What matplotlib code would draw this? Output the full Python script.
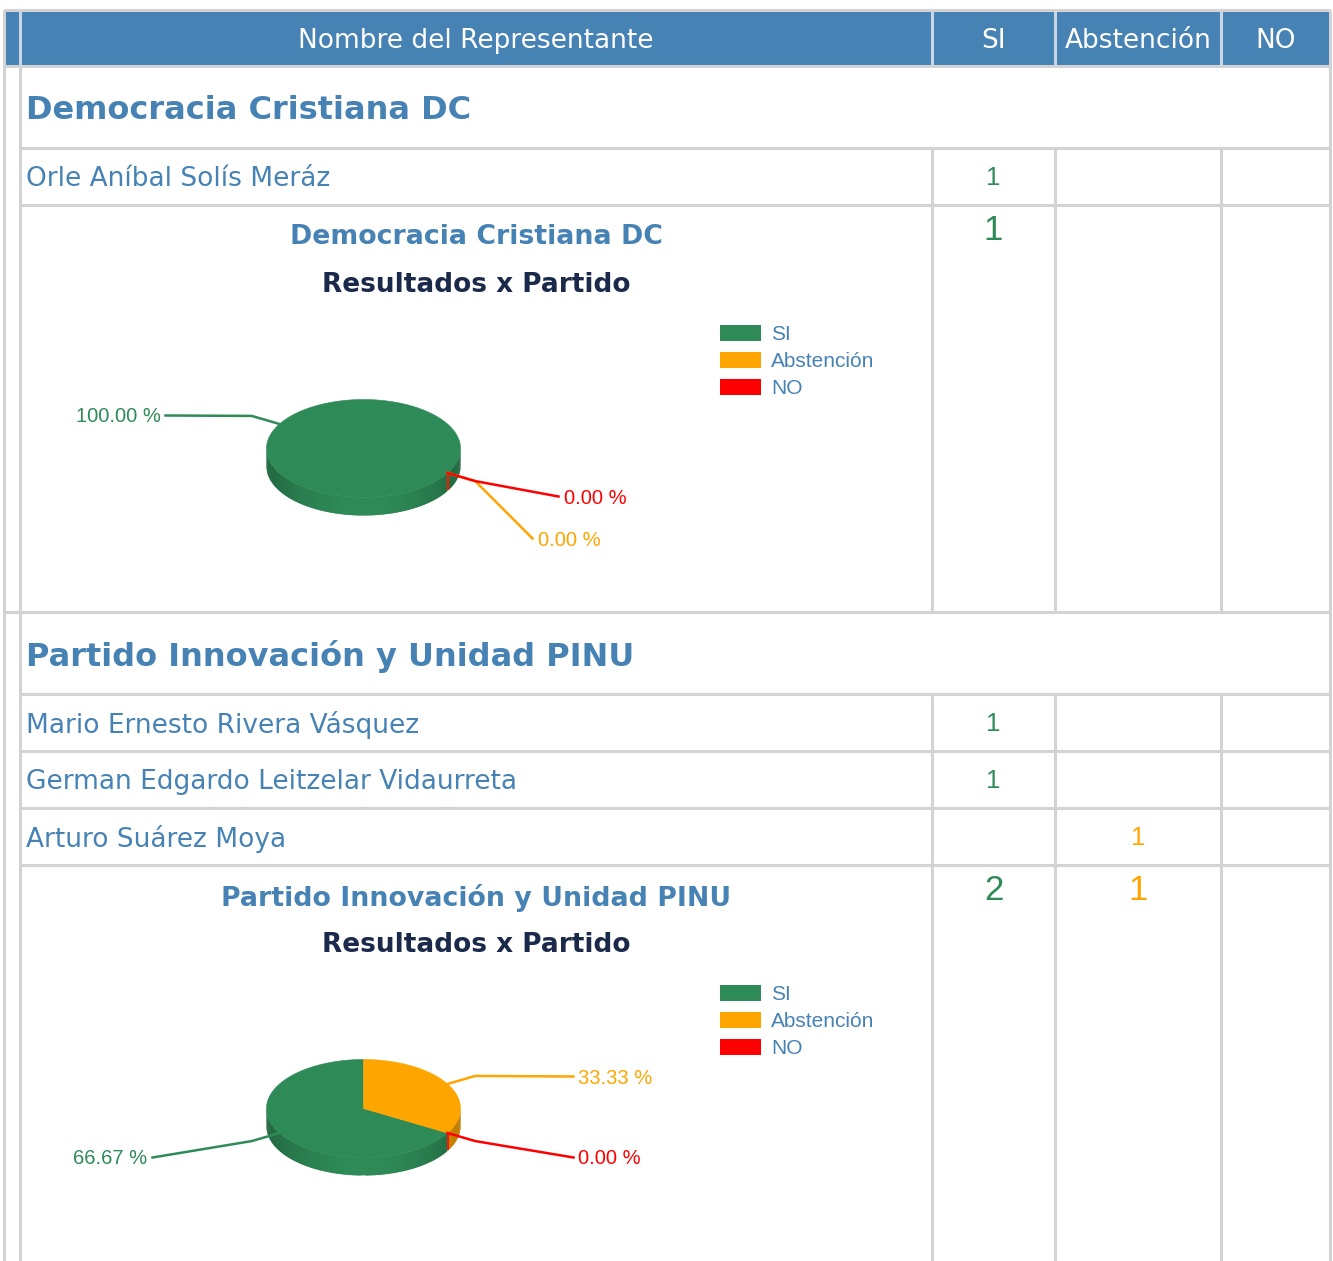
import numpy as np
import matplotlib
matplotlib.use("Agg")
import matplotlib.pyplot as plt
from matplotlib.patches import Polygon, Rectangle
from matplotlib.colors import to_rgb

# ---- data ----
options = ["SI", "Abstención", "NO"]
option_colors = ["#2E8B57", "#FFA500", "#FF0000"]

parties = ["Democracia Cristiana DC", "Partido Innovación y Unidad PINU"]
dc_names = ["Orle Aníbal Solís Meráz"]
dc_votes = ["SI"]
pinu_names = ["Mario Ernesto Rivera Vásquez",
              "German Edgardo Leitzelar Vidaurreta",
              "Arturo Suárez Moya"]
pinu_votes = ["SI", "SI", "Abstención"]

members = [dc_names, pinu_names]
votes = [dc_votes, pinu_votes]

# ---- layout (pixels) ----
W, H = 1333, 1261
BLUE = "#4682B4"
NAVY = "#1B2A4A"
GRID = "#D3D3D3"
x_left, x_inner, x_right = 4, 20, 1330
col_x = [932, 1055, 1221]
col_centers = [(932 + 1055) / 2, (1055 + 1221) / 2, (1221 + 1330) / 2]
hdr_top, hdr_h = 10, 56
party_h, member_h, chart_h = 82, 57, 407
lw = 2.2
dy_t = 2.5   # small baseline nudge for text

# pie geometry relative to chart row
pie_cx, pie_dy, pie_rx, pie_ry, pie_depth = 363.5, 243.5, 97, 49, 18
start_deg = -30
# leader line end points for each slice (relative to pie center)
label_ends = [
    [(-198, -33), (169, 90), (195, 48)],
    [(-211, 49), (210, -32), (210, 49)],
]

fig = plt.figure(figsize=(W / 100, H / 100), dpi=100)
ax = fig.add_axes([0, 0, 1, 1])
ax.set_xlim(0, W)
ax.set_ylim(H, 0)
ax.axis("off")

BODY = "DejaVu Sans"
ARIAL = "Liberation Sans"


def hline(y, x0, x1):
    ax.plot([x0, x1], [y, y], color=GRID, lw=lw, solid_capstyle="butt", zorder=3)


def vline(x, y0, y1, color=GRID):
    ax.plot([x, x], [y0, y1], color=color, lw=lw, solid_capstyle="butt", zorder=3)


def shade(c, f):
    r, g, b = to_rgb(c)
    return (min(r * f, 1), min(g * f, 1), min(b * f, 1))


def ell(t, cx, cy, rx, ry):
    return cx + rx * np.cos(t), cy - ry * np.sin(t)


def draw_pie(cx, cy, counts, ends):
    total = sum(counts)
    fracs = [c / total for c in counts]
    a0 = np.radians(start_deg)
    spans = []
    a = a0
    for f in fracs:
        spans.append((a, a - 2 * np.pi * f))
        a = a - 2 * np.pi * f
    # side walls (front half) with shading strips
    step = np.radians(1.5)
    for (s, e), col, f in zip(spans, option_colors, fracs):
        if f == 0:
            continue
        ts = np.linspace(e, s, max(int(abs(s - e) / step), 2))
        for t0, t1 in zip(ts[:-1], ts[1:]):
            tm = (t0 + t1) / 2
            if np.sin(tm) > 0.0:
                continue
            k = 0.74 + 0.26 * (-np.sin(tm)) ** 2
            ta = max(t0 - 0.01, e)
            tb = min(t1 + 0.01, s)
            x0, y0 = ell(ta, cx, cy, pie_rx, pie_ry)
            x1, y1 = ell(tb, cx, cy, pie_rx, pie_ry)
            poly = [(x0, y0), (x1, y1), (x1, y1 + pie_depth), (x0, y0 + pie_depth)]
            ax.add_patch(Polygon(poly, closed=True, facecolor=shade(col, k),
                                 edgecolor="none", zorder=4))
    # top faces
    for (s, e), col, f in zip(spans, option_colors, fracs):
        if f == 0:
            continue
        ts = np.linspace(s, e, 200)
        xs, ys = ell(ts, cx, cy, pie_rx, pie_ry)
        pts = list(zip(xs, ys))
        if f < 1:
            pts = [(cx, cy)] + pts
        ax.add_patch(Polygon(pts, closed=True, facecolor=col, edgecolor=col,
                             lw=0.4, zorder=5))
    # zero slices: edge tick
    for (s, e), col, f in zip(spans, option_colors, fracs):
        if f == 0:
            x, y = ell(s, cx, cy, pie_rx, pie_ry)
            ax.plot([x, x], [y, y + pie_depth * 0.9], color=col, lw=1.2, zorder=6)
    # labels with leader lines
    for i in range(len(counts)):
        s, e = spans[i]
        m = (s + e) / 2
        ax_, ay_ = ell(m, cx, cy, pie_rx, pie_ry)
        bx, by = ell(m, cx, cy, pie_rx * 1.33, pie_ry * 1.33)
        ex, ey = cx + ends[i][0], cy + ends[i][1]
        ax.plot([ax_, bx, ex], [ay_, by, ey], color=option_colors[i], lw=1.8,
                zorder=7 + i, solid_joinstyle="round")
        ha = "left" if ends[i][0] > 0 else "right"
        tx = ex + 5 if ha == "left" else ex - 5
        ax.text(tx, ey + 1.5, f"{fracs[i] * 100:.2f} %", color=option_colors[i],
                fontsize=14.5, family=ARIAL, ha=ha, va="center", zorder=10)


# ---- header ----
ax.add_patch(Rectangle((x_left, hdr_top), x_right - x_left, hdr_h,
                       facecolor=BLUE, edgecolor="none", zorder=1))
hdr_mid = hdr_top + hdr_h / 2 + dy_t
ax.text((x_inner + col_x[0]) / 2, hdr_mid, "Nombre del Representante", color="white",
        fontsize=19, family=BODY, ha="center", va="center", zorder=4)
for cxp, lab in zip(col_centers, options):
    ax.text(cxp, hdr_mid, lab, color="white", fontsize=19, family=BODY,
            ha="center", va="center", zorder=4)
for x in [x_inner] + col_x:
    vline(x, hdr_top, hdr_top + hdr_h, color="#C8D6E5")
hline(hdr_top, x_left, x_right)

y = hdr_top + hdr_h
hline(y, x_left, x_right)
for p, (party, names, pv) in enumerate(zip(parties, members, votes)):
    sec_top = y
    # party heading
    ax.text(26, y + party_h / 2 + 1 + dy_t, party, color=BLUE, fontsize=23,
            family=BODY, weight="bold", ha="left", va="center", zorder=4)
    y += party_h
    hline(y, x_inner, x_right)
    col_top = y
    # member rows
    for name, v in zip(names, pv):
        mid = y + member_h / 2
        ax.text(26, mid + dy_t, name, color=BLUE, fontsize=19, family=BODY,
                ha="left", va="center", zorder=4)
        k = options.index(v)
        ax.text(col_centers[k], mid + 1.5, "1", color=option_colors[k], fontsize=18.5,
                family=ARIAL, ha="center", va="center", zorder=4)
        y += member_h
        hline(y, x_inner, x_right)
    # chart row
    chart_top = y
    counts = [pv.count(o) for o in options]
    for k, c in enumerate(counts):
        if c:
            ax.text(col_centers[k], chart_top + 26, str(c), color=option_colors[k],
                    fontsize=25, family=ARIAL, ha="center", va="center", zorder=4)
    ax.text(476, chart_top + 30 + dy_t, party, color=BLUE, fontsize=19.3, family=BODY,
            weight="bold", ha="center", va="center", zorder=4)
    ax.text(476, chart_top + 78 + dy_t, "Resultados x Partido", color=NAVY,
            fontsize=19, family=BODY, weight="bold", ha="center", va="center",
            zorder=4)
    for k, o in enumerate(options):
        ly = chart_top + 128 + 27 * k
        ax.add_patch(Rectangle((720, ly - 8), 41, 16, facecolor=option_colors[k],
                               edgecolor="none", zorder=4))
        ax.text(771, ly + 1.5, o, color=BLUE, fontsize=15, family=ARIAL,
                ha="left", va="center", zorder=4)
    draw_pie(pie_cx, chart_top + pie_dy, counts, label_ends[p])
    y = min(chart_top + chart_h, H)
    for x in col_x:
        vline(x, col_top, y)
    vline(x_inner, sec_top, y)
    if y < H:
        hline(y, x_left, x_right)

vline(x_left, hdr_top, H)
vline(x_right, hdr_top, H)

fig.savefig("out.png", dpi=100)
